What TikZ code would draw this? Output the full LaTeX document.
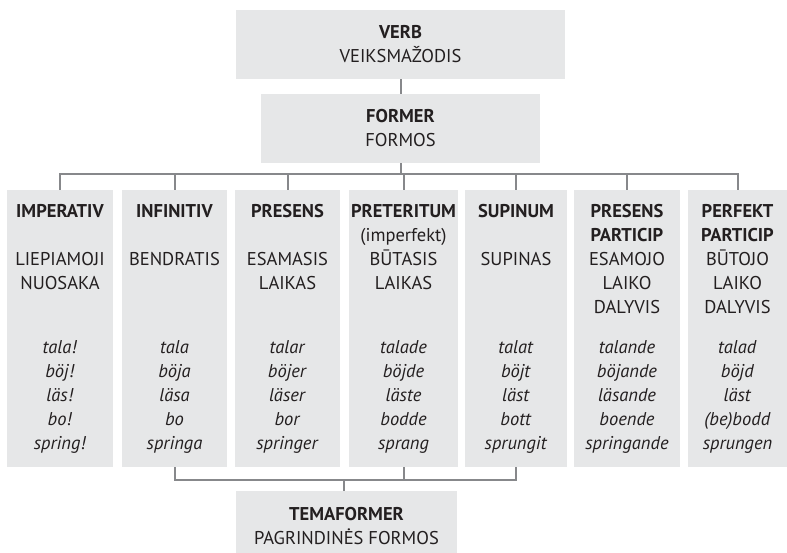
\documentclass[tikz,border=0pt]{standalone}
\usepackage{fontspec}
\setmainfont{PT Sans}
\usepackage{xcolor}
\definecolor{boxgrey}{HTML}{E6E7E8}
\definecolor{wiregrey}{HTML}{87888B}
\definecolor{inkdark}{HTML}{231F20}
\usepackage{tikz}

\begin{document}
\begin{tikzpicture}[box/.style={fill=boxgrey, inner sep=0pt, align=center, text=inkdark},
	column/.style={box, minimum height=277bp},
	wire/.style={draw=wiregrey, line width=2bp},
	every node/.style={font=\fontsize{18.5bp}{24bp}\selectfont}]
	\useasboundingbox (0bp,0bp) rectangle (787bp,-553bp);

	\node (verb) at (400.5bp,-44.5bp) [box, minimum width=329bp, minimum height=69bp] {\textbf{VERB}\\ VEIKSMAŽODIS};
	\node (former) at (400.5bp,-128.5bp) [box, minimum width=279bp, minimum height=69bp] {\textbf{FORMER}\\ FORMOS};

	\node (col1) at (60bp,-328.5bp) [column, minimum width=106bp] {\textbf{IMPERATIV}\\ ~\\ LIEPIAMOJI\\ NUOSAKA\\ ~\\[16bp]
		\textit{tala!}\\ \textit{böj!}\\ \textit{läs!}\\ \textit{bo!}\\ \textit{spring!}};
	\node (col2) at (174.5bp,-328.5bp) [column, minimum width=105bp] {\textbf{INFINITIV}\\ ~\\ BENDRATIS\\ ~\\ ~\\[16bp]
		\textit{tala}\\ \textit{böja}\\ \textit{läsa}\\ \textit{bo}\\ \textit{springa}};
	\node (col3) at (287.5bp,-328.5bp) [column, minimum width=105bp] {\textbf{PRESENS}\\ ~\\ ESAMASIS\\ LAIKAS\\ ~\\[16bp]
		\textit{talar}\\ \textit{böjer}\\ \textit{läser}\\ \textit{bor}\\ \textit{springer}};
	\node (col4) at (403.5bp,-328.5bp) [column, minimum width=109bp] {\textbf{PRETERITUM}\\ (imperfekt)\\ BŪTASIS\\ LAIKAS\\ ~\\[16bp]
		\textit{talade}\\ \textit{böjde}\\ \textit{läste}\\ \textit{bodde}\\ \textit{sprang}};
	\node (col5) at (516bp,-328.5bp) [column, minimum width=102bp] {\textbf{SUPINUM}\\ ~\\ SUPINAS\\ ~\\ ~\\[16bp]
		\textit{talat}\\ \textit{böjt}\\ \textit{läst}\\ \textit{bott}\\ \textit{sprungit}};
	\node (col6) at (627bp,-328.5bp) [column, minimum width=106bp] {\textbf{PRESENS}\\ \textbf{PARTICIP}\\ ESAMOJO\\ LAIKO\\ DALYVIS\\[16bp]
		\textit{talande}\\ \textit{böjande}\\ \textit{läsande}\\ \textit{boende}\\ \textit{springande}};
	\node (col7) at (737.5bp,-328.5bp) [column, minimum width=99bp] {\textbf{PERFEKT}\\ \textbf{PARTICIP}\\ BŪTOJO\\ LAIKO\\ DALYVIS\\[16bp]
		\textit{talad}\\ \textit{böjd}\\ \textit{läst}\\ \textit{(be)bodd}\\ \textit{sprungen}};

	\node (temaformer) at (346.5bp,-525.5bp) [box, minimum width=221bp, minimum height=69bp] {\textbf{TEMAFORMER}\\ PAGRINDINĖS FORMOS};

	\coordinate (rail) at (400.5bp,-173.5bp);
	\coordinate (bracket) at (344bp,-480bp);

	\draw [wire] (verb) -- (former);
	\draw [wire] (former.south) -- (rail);
	\draw [wire] (col1.north) |- (col7.north |- rail) -- (col7.north);
	\draw [wire] (col2.north) -- (col2.north |- rail);
	\draw [wire] (col3.north) -- (col3.north |- rail);
	\draw [wire] (col4.north) -- (col4.north |- rail);
	\draw [wire] (col5.north) -- (col5.north |- rail);
	\draw [wire] (col6.north) -- (col6.north |- rail);

	\draw [wire] (col2.south) |- (col5.south |- bracket) -- (col5.south);
	\draw [wire] (col4.south) -- (col4.south |- bracket);
	\draw [wire] (bracket) -- (bracket |- temaformer.north);
\end{tikzpicture}
\end{document}
